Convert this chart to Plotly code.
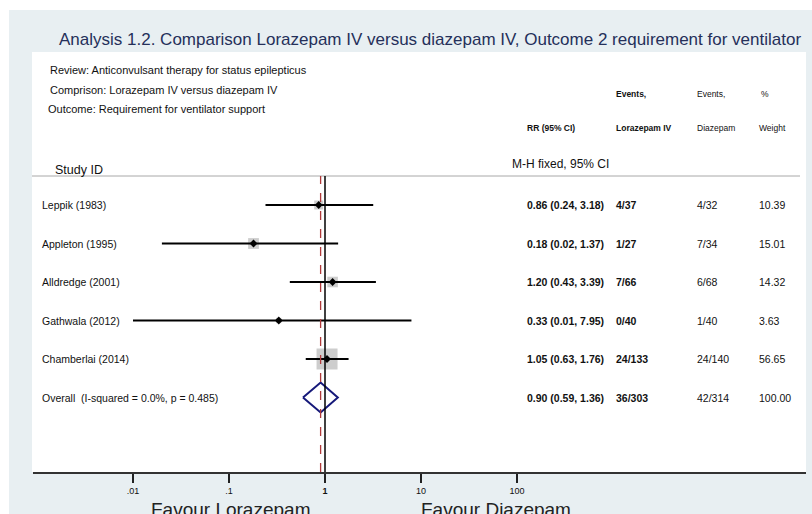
import math
import plotly.graph_objects as go

W, H = 812, 514

# ---- data ----
studies = ["Leppik (1983)", "Appleton (1995)", "Alldredge (2001)", "Gathwala (2012)", "Chamberlai (2014)"]
rr = [0.86, 0.18, 1.20, 0.33, 1.05]
ci_lo = [0.24, 0.02, 0.43, 0.01, 0.63]
ci_hi = [3.18, 1.37, 3.39, 7.95, 1.76]
events_lor = ["4/37", "1/27", "7/66", "0/40", "24/133"]
events_dia = ["4/32", "7/34", "6/68", "1/40", "24/140"]
weights = [10.39, 15.01, 14.32, 3.63, 56.65]

overall_label = "Overall  (I-squared = 0.0%, p = 0.485)"
overall_rr, overall_lo, overall_hi = 0.90, 0.59, 1.36
overall_lor, overall_dia, overall_w = "36/303", "42/314", "100.00"

tick_vals = [0.01, 0.1, 1, 10, 100]
tick_text = [".01", ".1", "<b>1</b>", "10", "100"]

title = "Analysis 1.2. Comparison Lorazepam IV versus diazepam IV, Outcome 2 requirement for ventilator"
info_lines = ["Review: Anticonvulsant therapy for status epilepticus",
              "Comprison: Lorazepam IV versus diazepam IV",
              "Outcome: Requirement for ventilator support"]

FONT = "Arial, Liberation Sans, sans-serif"
TXT = "#111111"

def px(x):
    return x / W

def py(y):
    return 1 - y / H

rows = list(range(1, len(studies) + 1))
overall_row = len(studies) + 1

fig = go.Figure()

# CI segments
lx, ly = [], []
for r, lo, hi in zip(rows, ci_lo, ci_hi):
    lx += [lo, hi, None]
    ly += [r, r, None]

# weight squares
max_w = max(weights)
sizes = [21 * math.sqrt(w / max_w) for w in weights]
fig.add_trace(go.Scatter(x=rr, y=rows, mode="markers",
                         marker=dict(symbol="square", size=sizes, color="#B8B8B8", line=dict(width=0)),
                         showlegend=False))
fig.add_trace(go.Scatter(x=lx, y=ly, mode="lines", line=dict(color="black", width=2),
                         hoverinfo="skip", showlegend=False))
# point estimates
fig.add_trace(go.Scatter(x=rr, y=rows, mode="markers",
                         marker=dict(symbol="diamond", size=6, color="black"),
                         showlegend=False))

# overall diamond
hh = 0.39
fig.add_trace(go.Scatter(
    x=[overall_lo, overall_rr, overall_hi, overall_rr, overall_lo],
    y=[overall_row, overall_row - hh, overall_row, overall_row + hh, overall_row],
    mode="lines", line=dict(color="#16197a", width=2), showlegend=False))

# axes geometry (pixels)
x0_px, x1_px = 33, 806
c_px, dec_px = 325, 96
xr = [(x0_px - c_px) / dec_px, (x1_px - c_px) / dec_px]
y_top_px, y_bot_px = 176, 472
row_px0, row_step = 205, 38.5
yr_top = 1 + (y_top_px - row_px0) / row_step
yr_bot = 1 + (y_bot_px - row_px0) / row_step

fig.update_xaxes(type="log", range=xr, domain=[px(x0_px), px(x1_px)],
                 tickvals=tick_vals, ticktext=tick_text, ticks="outside", ticklen=9,
                 tickwidth=1.5, tickcolor="#222", showgrid=False, zeroline=False,
                 showline=True, linecolor="#333", linewidth=2,
                 tickfont=dict(family=FONT, size=9, color=TXT))
fig.update_yaxes(range=[yr_bot, yr_top], domain=[py(y_bot_px), py(y_top_px)],
                 showgrid=False, zeroline=False, showticklabels=False, showline=False)

shapes = []
shapes.append(dict(type="rect", xref="paper", yref="paper", x0=px(9), x1=1, y0=0, y1=py(10),
                   fillcolor="#E8EFF2", line=dict(width=0), layer="below"))
shapes.append(dict(type="rect", xref="paper", yref="paper", x0=px(32), x1=px(806), y0=py(472), y1=py(52),
                   fillcolor="white", line=dict(width=0), layer="below"))
shapes.append(dict(type="line", xref="paper", yref="paper", x0=px(32), x1=px(800), y0=py(176), y1=py(176),
                   line=dict(color="#A8A8A8", width=1)))
shapes.append(dict(type="line", xref="x", yref="paper", x0=1, x1=1, y0=py(y_bot_px), y1=py(y_top_px),
                   line=dict(color="black", width=1.5)))
shapes.append(dict(type="line", xref="x", yref="paper", x0=overall_rr, x1=overall_rr,
                   y0=py(y_bot_px), y1=py(y_top_px),
                   line=dict(color="#B03A3A", width=1.3, dash="dash")))

ann = []
def text(x, y, s, size, bold=False, color=TXT, yref="paper", xanchor="left"):
    ann.append(dict(x=px(x - 2 if xanchor == "left" else x), y=(py(y) if yref == "paper" else y),
                    xref="paper", yref=yref,
                    text=(f"<b>{s}</b>" if bold else s), showarrow=False, xanchor=xanchor,
                    yanchor="middle", font=dict(family=FONT, size=size, color=color)))

text(59, 40, title, 17, color="#25305A")
for i, (s, xx) in enumerate(zip(info_lines, [50, 50, 48])):
    text(xx, 70 + i * 19.5, s, 11)
text(616, 94, "Events,", 8.5, bold=True)
text(697, 94, "Events,", 8.5)
text(761, 94, "%", 8.5)
text(527, 128, "RR (95% CI)", 8.5, bold=True)
text(616, 128, "Lorazepam IV", 8.5, bold=True)
text(697, 128, "Diazepam", 8.5)
text(759, 128, "Weight", 8.5)
text(512, 164, "M-H fixed, 95% CI", 12)
text(55, 170, "Study ID", 12.5)

col_rr, col_l, col_d, col_w = 527, 616, 697, 759
FS = 10.5
for r, s, a, b, c, el, ed, w in zip(rows, studies, rr, ci_lo, ci_hi, events_lor, events_dia, weights):
    text(42, r, s, FS, yref="y")
    text(col_rr, r, f"{a:.2f} ({b:.2f}, {c:.2f})", FS, bold=True, yref="y")
    text(col_l, r, el, FS, bold=True, yref="y")
    text(col_d, r, ed, FS, yref="y")
    text(col_w, r, f"{w:.2f}", FS, yref="y")
text(42, overall_row, overall_label, FS, yref="y")
text(col_rr, overall_row, f"{overall_rr:.2f} ({overall_lo:.2f}, {overall_hi:.2f})", FS, bold=True, yref="y")
text(col_l, overall_row, overall_lor, FS, bold=True, yref="y")
text(col_d, overall_row, overall_dia, FS, yref="y")
text(col_w, overall_row, overall_w, FS, yref="y")

text(230, 509, "Favour Lorazepam", 19, color="#222", xanchor="center")
text(496, 509, "Favour Diazepam", 19, color="#222", xanchor="center")

fig.update_layout(width=W, height=H, margin=dict(l=0, r=0, t=0, b=0),
                  paper_bgcolor="white", plot_bgcolor="rgba(0,0,0,0)",
                  shapes=shapes, annotations=ann, showlegend=False)

fig.write_html("out.html", config={"displayModeBar": False},
               post_script="document.body.style.margin='0';document.body.style.overflow='hidden';")
